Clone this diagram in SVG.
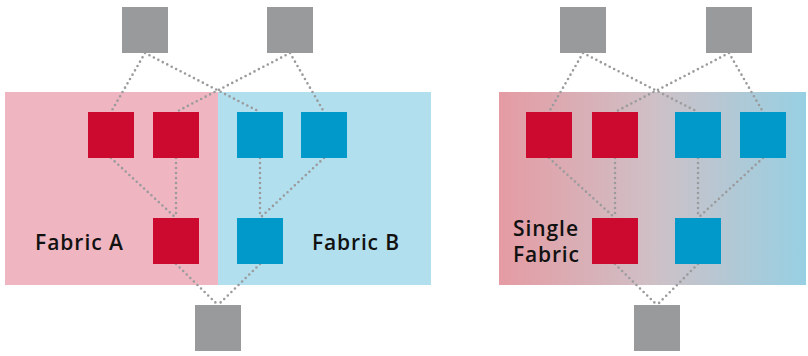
<svg xmlns="http://www.w3.org/2000/svg" width="808" height="356" viewBox="0 0 808 356">
<style>
.gray{fill:#999a9c}
.red{fill:#cc0a2f}
.blue{fill:#0099c9}
.link{fill:none;stroke:#9b9b9d;stroke-width:2.6;stroke-linecap:round;stroke-dasharray:0 5}
.lbl{font-family:"Open Sans","Liberation Sans",Arial,sans-serif;font-size:21px;fill:#111;font-weight:600}
</style>
<defs>
<linearGradient id="grad" x1="0" y1="0" x2="1" y2="0">
<stop offset="0" stop-color="#e59ba3"/>
<stop offset="0.5" stop-color="#cfc0c6"/>
<stop offset="1" stop-color="#97d0e3"/>
</linearGradient>
</defs>
<g id="fabricA"><rect x="5" y="92" width="213" height="193" fill="#efb5c0"/></g>
<g id="fabricB"><rect x="218" y="92" width="213" height="193" fill="#b1dfee"/></g>
<g id="singleFabric"><rect x="499" y="92" width="307" height="193" fill="url(#grad)"/></g>
<g id="connectors">
<path class="link" d="M145 53L111 112M145 53L260 112M290 53L176 112M290 53L324 112"/>
<path class="link" d="M111 158L176 218M176 158L176 218M260 158L260 218M324 158L260 218"/>
<path class="link" d="M176 264L218 305M260 264L218 305"/>
<path class="link" d="M583 53L549 112M583 53L698 112M729 53L615 112M729 53L763 112"/>
<path class="link" d="M549 158L615 218M615 158L615 218M698 158L698 218M763 158L698 218"/>
<path class="link" d="M615 264L657 305M698 264L657 305"/>
</g>
<g id="l-top1"><rect class="gray" x="122" y="7" width="46" height="46"/></g>
<g id="l-top2"><rect class="gray" x="267" y="7" width="46" height="46"/></g>
<g id="l-red1"><rect class="red" x="88" y="112" width="46" height="46"/></g>
<g id="l-red2"><rect class="red" x="153" y="112" width="46" height="46"/></g>
<g id="l-blue1"><rect class="blue" x="237" y="112" width="46" height="46"/></g>
<g id="l-blue2"><rect class="blue" x="301" y="112" width="46" height="46"/></g>
<g id="l-red3"><rect class="red" x="153" y="218" width="46" height="46"/></g>
<g id="l-blue3"><rect class="blue" x="237" y="218" width="46" height="46"/></g>
<g id="l-bottom"><rect class="gray" x="195" y="305" width="46" height="46"/></g>
<g id="r-top1"><rect class="gray" x="560" y="7" width="46" height="46"/></g>
<g id="r-top2"><rect class="gray" x="706" y="7" width="46" height="46"/></g>
<g id="r-red1"><rect class="red" x="526" y="112" width="46" height="46"/></g>
<g id="r-red2"><rect class="red" x="592" y="112" width="46" height="46"/></g>
<g id="r-blue1"><rect class="blue" x="675" y="112" width="46" height="46"/></g>
<g id="r-blue2"><rect class="blue" x="740" y="112" width="46" height="46"/></g>
<g id="r-red3"><rect class="red" x="592" y="218" width="46" height="46"/></g>
<g id="r-blue3"><rect class="blue" x="675" y="218" width="46" height="46"/></g>
<g id="r-bottom"><rect class="gray" x="634" y="305" width="46" height="46"/></g>
<g id="labels">
<text class="lbl" x="35" y="250" textLength="88" lengthAdjust="spacing">Fabric A</text>
<text class="lbl" x="312" y="250" textLength="87" lengthAdjust="spacing">Fabric B</text>
<text class="lbl" x="513" y="236" textLength="65" lengthAdjust="spacing">Single</text>
<text class="lbl" x="513" y="262" textLength="66" lengthAdjust="spacing">Fabric</text>
</g>
</svg>
